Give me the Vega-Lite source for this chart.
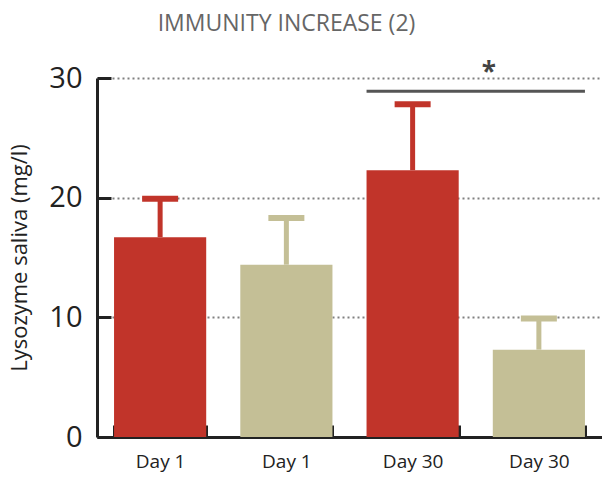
{
  "$schema": "https://vega.github.io/schema/vega-lite/v6.json",
  "width": 505,
  "height": 359,
  "autosize": {"type": "none"},
  "padding": {"left": 97, "top": 78, "right": 0, "bottom": 40},
  "title": {
    "text": "IMMUNITY INCREASE (2)",
    "anchor": "middle",
    "frame": "group",
    "dx": -63,
    "offset": 24,
    "font": "Open Sans",
    "fontSize": 23,
    "fontWeight": 500,
    "color": "#666666"
  },
  "datasets": {
    "bars": [
      {"key": "Day 1|a", "group": "A", "value": 16.7, "err": 19.9},
      {"key": "Day 1|b", "group": "B", "value": 14.4, "err": 18.3},
      {"key": "Day 30|a", "group": "A", "value": 22.3, "err": 27.8},
      {"key": "Day 30|b", "group": "B", "value": 7.3, "err": 9.9}
    ],
    "sig": [
      {"from": "Day 30|a", "to": "Day 30|b", "y": 28.9, "ys": 30.4, "star": "*"}
    ]
  },
  "data": {"name": "bars"},
  "encoding": {
    "x": {
      "field": "key",
      "type": "nominal",
      "sort": null,
      "scale": {"paddingInner": 0.27, "paddingOuter": 0.135},
      "axis": {
        "title": null,
        "labelAngle": 0,
        "labelExpr": "isString(datum.value) ? split(datum.value, '|')[0] : ''",
        "labelFont": "Open Sans",
        "labelFontSize": 19,
        "labelColor": "#222222",
        "labelPadding": 27,
        "tickBand": "extent",
        "tickSize": -12,
        "tickWidth": 3,
        "tickColor": "#222222",
        "domainColor": "#222222",
        "domainWidth": 3,
        "grid": false
      }
    }
  },
  "layer": [
    {
      "mark": {"type": "bar"},
      "encoding": {
        "y": {
          "field": "value",
          "type": "quantitative",
          "scale": {"domain": [0, 30], "nice": false},
          "axis": {
            "title": "Lysozyme saliva (mg/l)",
            "titleFont": "Open Sans",
            "titleFontSize": 22,
            "titleFontWeight": "normal",
            "titleColor": "#222222",
            "titlePadding": 17,
            "values": [0, 10, 20, 30],
            "labelFont": "Open Sans",
            "labelFontSize": 29,
            "labelColor": "#222222",
            "labelPadding": 29,
            "tickSize": -14,
            "tickWidth": 3,
            "tickColor": "#222222",
            "domainColor": "#222222",
            "domainWidth": 3,
            "grid": true,
            "gridColor": "#808080",
            "gridWidth": 2,
            "gridDash": [2, 3]
          }
        },
        "color": {
          "field": "group",
          "type": "nominal",
          "scale": {"domain": ["A", "B"], "range": ["#C1342A", "#C4BF96"]},
          "legend": null
        }
      }
    },
    {
      "mark": {"type": "rule", "strokeWidth": 5},
      "encoding": {
        "y": {"field": "value", "type": "quantitative"},
        "y2": {"field": "err"},
        "color": {"field": "group", "type": "nominal", "legend": null}
      }
    },
    {
      "mark": {"type": "tick", "thickness": 6, "size": 36, "opacity": 1},
      "encoding": {
        "y": {"field": "err", "type": "quantitative"},
        "color": {"field": "group", "type": "nominal", "legend": null}
      }
    },
    {
      "data": {"name": "sig"},
      "mark": {"type": "rule", "strokeWidth": 3, "color": "#555555"},
      "encoding": {
        "x": {"field": "from", "type": "nominal", "bandPosition": 0},
        "x2": {"field": "to", "bandPosition": 1},
        "y": {"field": "y", "type": "quantitative"}
      }
    },
    {
      "data": {"name": "sig"},
      "mark": {"type": "text", "fontSize": 26, "fontWeight": "bold", "color": "#444444", "font": "Open Sans", "dx": -4, "baseline": "middle"},
      "encoding": {
        "x": {"field": "to", "type": "nominal", "bandPosition": 0},
        "y": {"field": "ys", "type": "quantitative"},
        "text": {"field": "star"}
      }
    }
  ],
  "config": {"view": {"stroke": null}}
}
